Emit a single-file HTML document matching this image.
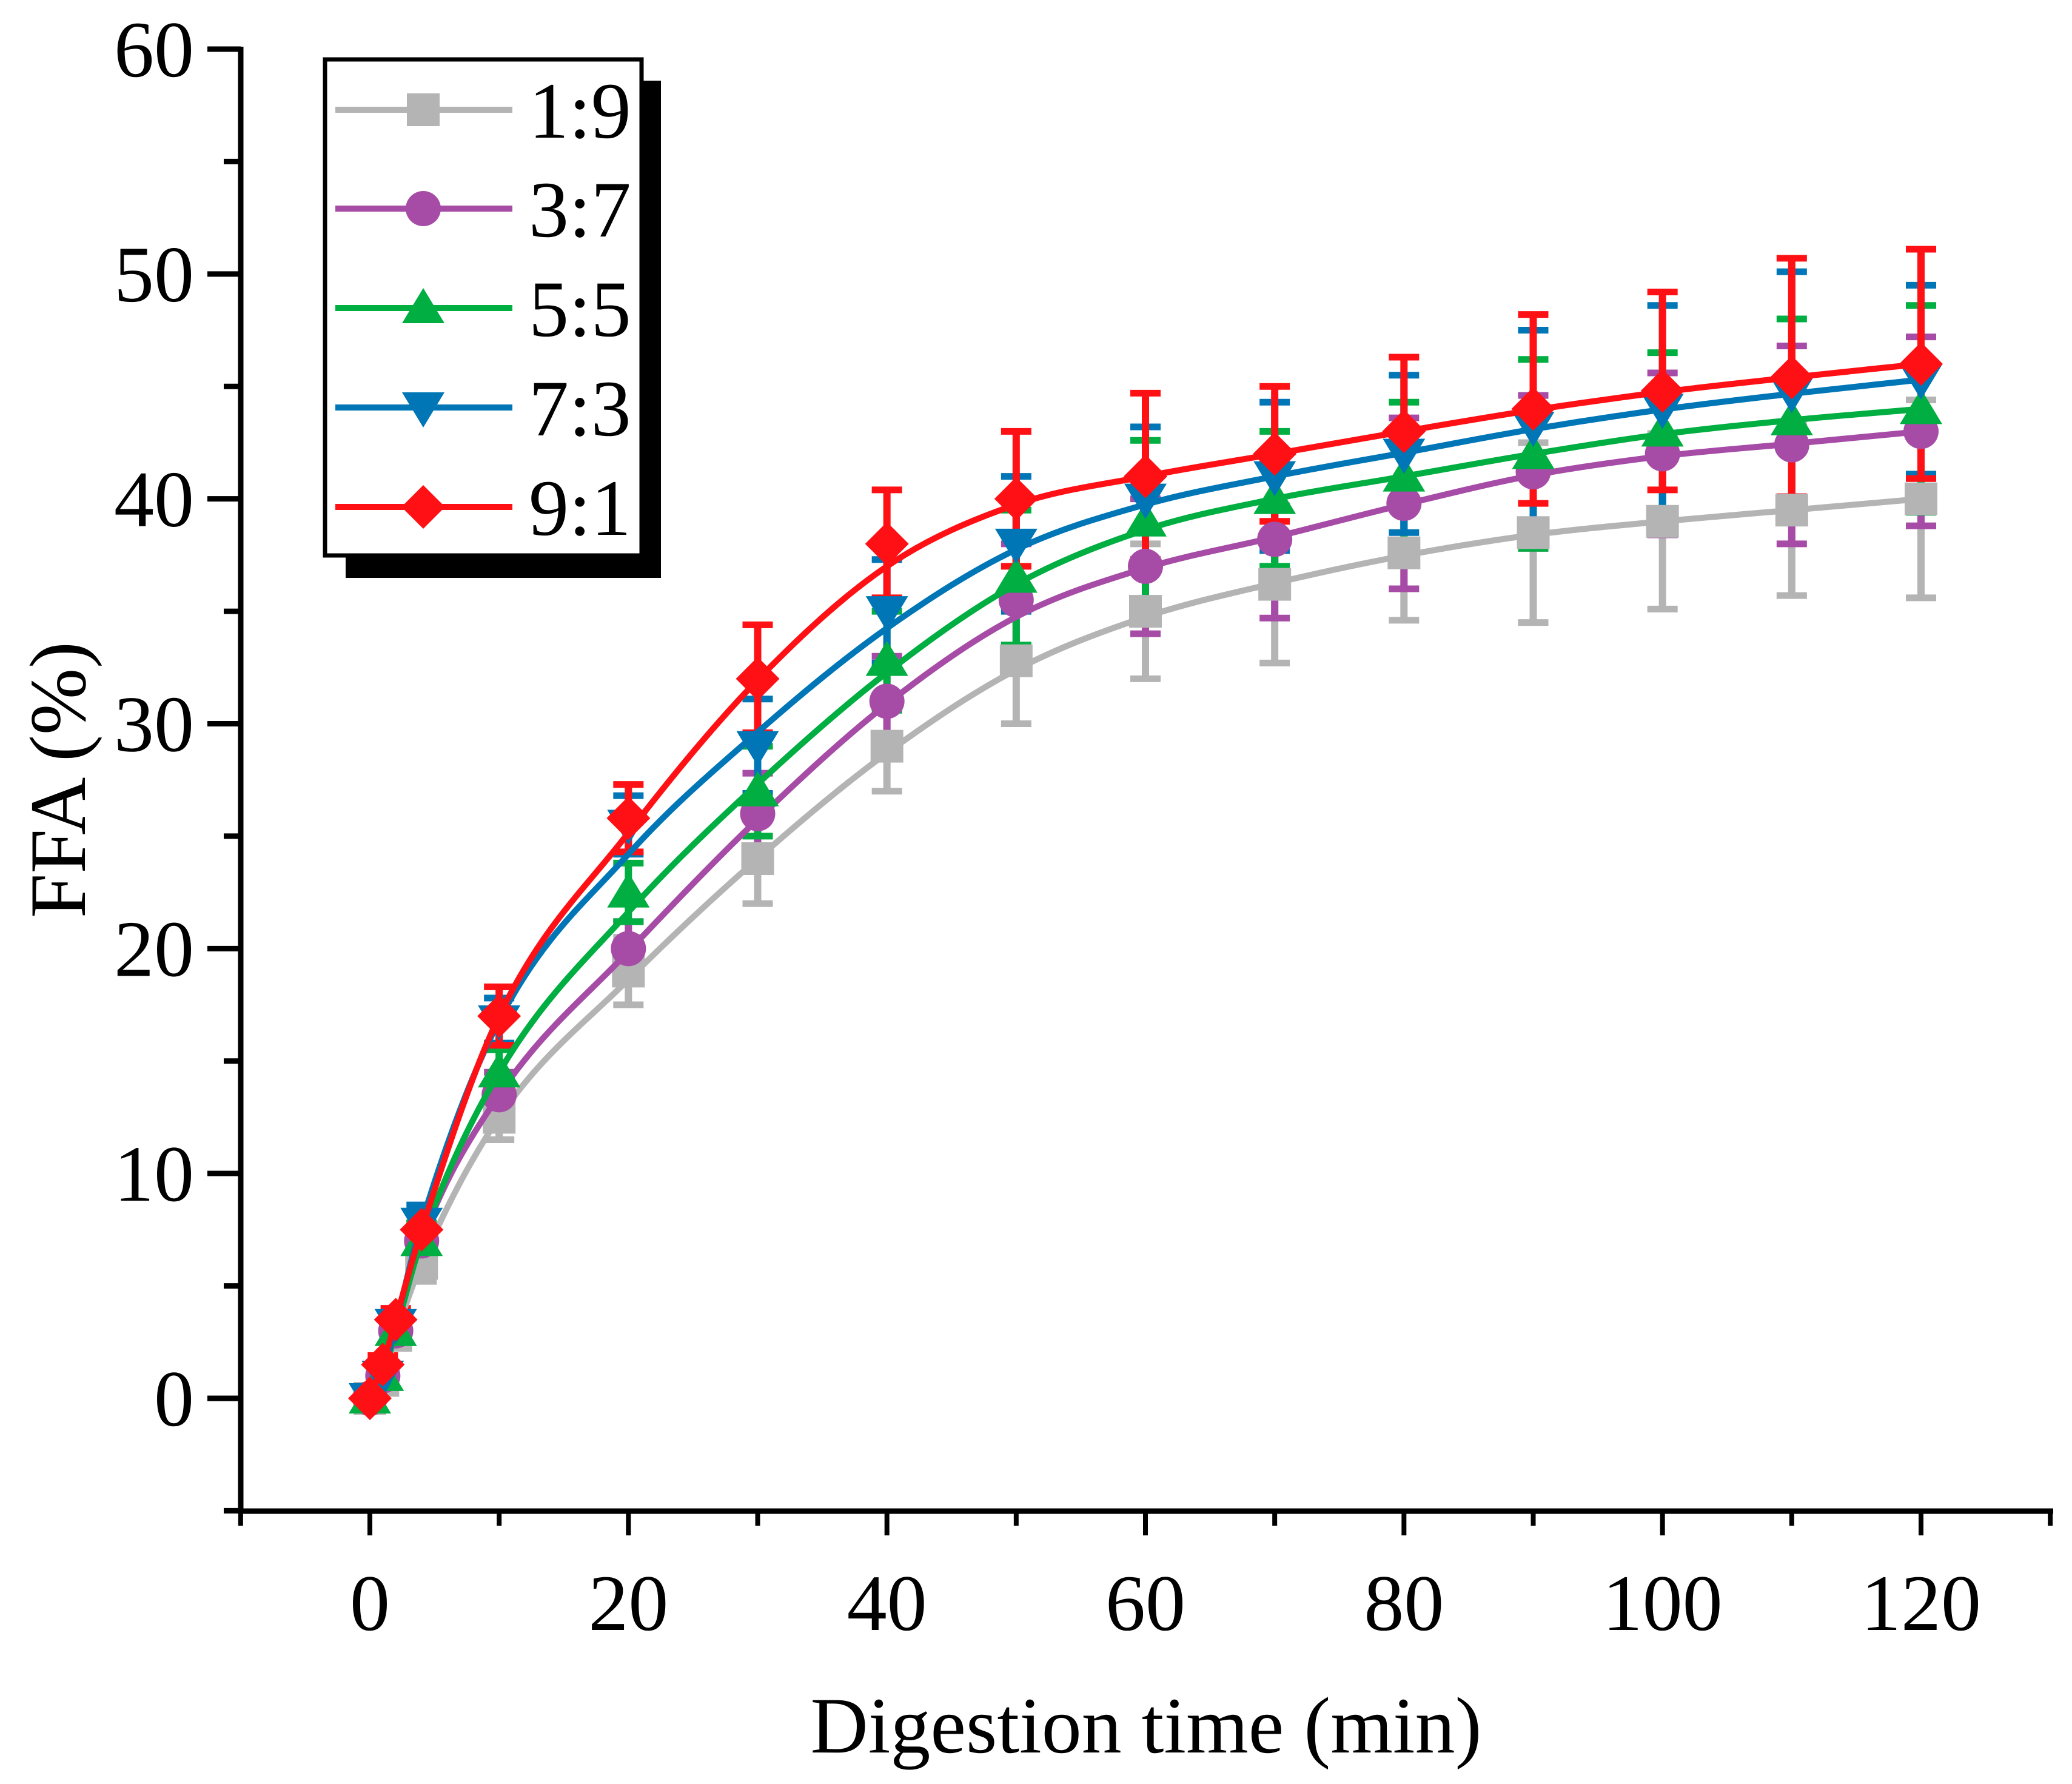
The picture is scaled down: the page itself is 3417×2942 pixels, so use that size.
<!DOCTYPE html>
<html><head><meta charset="utf-8"><style>
html,body{margin:0;padding:0;background:#fff;}
svg{display:block;font-family:"Liberation Serif",serif;}
</style></head><body>
<svg id="chart" width="3417" height="2942" viewBox="0 0 3417 2942" xmlns="http://www.w3.org/2000/svg">
<g id="plot"></g>
<g id="axes"></g>
<g id="legend"></g>
</svg>
<script>
const times = [0,1,2,4,10,20,30,40,50,60,70,80,90,100,110,120];
const seriesNames = ["1:9","3:7","5:5","7:3","9:1"];
const s19 = [0,0.8,2.8,6,12.5,19,24,29,32.8,35,36.2,37.6,38.5,39,39.5,40];
const s37 = [0,1,3,7,13.5,20,26,31,35.5,37,38.2,39.8,41.2,42,42.4,43];
const s55 = [0,1,3,7,14.5,22.5,27,32.8,36.5,39,40,41,42,43,43.5,44];
const s73 = [0,1,3.3,7.8,16.8,25.5,29,35,38,40,41,42,43.2,44,44.7,45.3];
const s91 = [0,1.5,3.5,7.5,17,25.8,32,38,40,41,42,43,44,44.8,45.4,46];
const e19 = [0.2,0.4,0.5,0.8,1,1.5,2,2,2.8,3,3.5,3,4,3.9,3.8,4.4];
const e37 = [0.2,0.4,0.5,0.8,1,1.2,1.8,2,2.5,3,3.5,3.8,3.4,3.6,4.4,4.2];
const e55 = [0.2,0.4,0.5,0.8,1,1.3,2,2.2,3,3.6,3,3.3,4.2,3.5,4.5,4.6];
const e73 = [0.2,0.4,0.5,0.8,1,1.3,2.1,2.3,3,3.2,3.3,3.5,4.3,4.6,5.4,4.2];
const e91 = [0.2,0.4,0.5,0.8,1.3,1.5,2.4,2.4,3,3.7,3,3.3,4.2,4.4,5.3,5.1];
const yTicks = [0,10,20,30,40,50,60];
const xTicks = [0,20,40,60,80,100,120];

const NS="http://www.w3.org/2000/svg";
const X0=397, XR=3386, YB=2492, YT=81;
function xs(t){return 610+(t-0)*(3168-610)/120;}
function ys(v){return 2306-v*(2306-81)/60;}
function mk(tag,attrs,parent){const e=document.createElementNS(NS,tag);for(const k in attrs)e.setAttribute(k,attrs[k]);parent.appendChild(e);return e;}

const plot=document.getElementById('plot'), axes=document.getElementById('axes'), legend=document.getElementById('legend');
const colors=["#b4b4b4","#a64ca6","#00ae41","#0076b7","#ff1015"];
const data=[s19,s37,s55,s73,s91];
const errs=[e19,e37,e55,e73,e91];
const shapes=["square","circle","up","down","diamond"];

function marker(shape,cx,cy,color,parent){
  let e;
  const r=29;
  if(shape==="square") e=mk('rect',{x:cx-r+2,y:cy-r+2,width:2*r-4,height:2*r-4,fill:color},parent);
  else if(shape==="circle") e=mk('circle',{cx:cx,cy:cy,r:r,fill:color},parent);
  else if(shape==="up") e=mk('polygon',{points:`${cx},${cy-r-4} ${cx+r+6},${cy+r-4} ${cx-r-6},${cy+r-4}`,fill:color},parent);
  else if(shape==="down") e=mk('polygon',{points:`${cx},${cy+r+4} ${cx+r+6},${cy-r+4} ${cx-r-6},${cy-r+4}`,fill:color},parent);
  else e=mk('polygon',{points:`${cx},${cy-r-7} ${cx+r+7},${cy} ${cx},${cy+r+7} ${cx-r-7},${cy}`,fill:color},parent);
  return e;
}
// smooth curve: moving average of values in data space, then monotone cubic
function smoothed(s){
  return s.map((v,i)=>{
    if(i<5||i===s.length-1) return v;
    return 0.25*s[i-1]+0.5*v+0.25*s[i+1];
  });
}
function monoPath(pts){
  const n=pts.length, d=[], m=[];
  for(let i=0;i<n-1;i++) d.push((pts[i+1][1]-pts[i][1])/(pts[i+1][0]-pts[i][0]));
  m[0]=d[0]; m[n-1]=d[n-2];
  for(let i=1;i<n-1;i++) m[i]=(d[i-1]*d[i]<=0)?0:(d[i-1]+d[i])/2;
  for(let i=0;i<n-1;i++){
    if(d[i]===0){m[i]=0;m[i+1]=0;continue;}
    const a=m[i]/d[i],b=m[i+1]/d[i],h=a*a+b*b;
    if(h>9){const t=3/Math.sqrt(h);m[i]=t*a*d[i];m[i+1]=t*b*d[i];}
  }
  let p=`M${pts[0][0]},${pts[0][1]}`;
  for(let i=0;i<n-1;i++){
    const dx=(pts[i+1][0]-pts[i][0])/3;
    p+=` C${pts[i][0]+dx},${pts[i][1]+m[i]*dx} ${pts[i+1][0]-dx},${pts[i+1][1]-m[i+1]*dx} ${pts[i+1][0]},${pts[i+1][1]}`;
  }
  return p;
}
// error bars
data.forEach((s,si)=>{
  const g=mk('g',{},plot);
  
  
  s.forEach((v,i)=>{
    const x=xs(times[i]),y1=ys(v+errs[si][i]),y2=ys(v-errs[si][i]);
    mk('line',{x1:x,y1:y1,x2:x,y2:y2,stroke:colors[si],'stroke-width':12},g);
    mk('line',{x1:x-25,y1:y1,x2:x+25,y2:y1,stroke:colors[si],'stroke-width':11},g);
    mk('line',{x1:x-25,y1:y2,x2:x+25,y2:y2,stroke:colors[si],'stroke-width':11},g);
  });
});
// lines and markers
data.forEach((s,si)=>{
  const g=mk('g',{},plot);
  
  
  const sm=smoothed(s);
  const pts=sm.map((v,i)=>[xs(times[i]),ys(v)]);
  const p=mk('path',{d:monoPath(pts),fill:'none',stroke:colors[si],'stroke-width':10},g);
  
  
  s.forEach((v,i)=>{
    const m=marker(shapes[si],xs(times[i]),ys(v),colors[si],g);
    
    
  });
});
// axes
mk('line',{x1:X0,y1:YT-4,x2:X0,y2:YB+4,stroke:'#000','stroke-width':9},axes);
mk('line',{x1:X0-4,y1:YB,x2:XR,y2:YB,stroke:'#000','stroke-width':9},axes);
for(let v=-5;v<=60;v+=5){
  const major=(v%10===0);
  mk('line',{x1:X0-(major?55:28),y1:ys(v),x2:X0,y2:ys(v),stroke:'#000','stroke-width':9},axes);
}
yTicks.forEach(v=>{
  const t=mk('text',{x:320,y:ys(v)+45,'font-size':132,'text-anchor':'end',fill:'#000'},axes);
  t.textContent=v;
  
  
});
for(let tv=-10;tv<=130;tv+=10){
  const major=(tv%20===0)&&tv>=0&&tv<=120;
  mk('line',{x1:xs(tv),y1:YB,x2:xs(tv),y2:YB+(major?40:24),stroke:'#000','stroke-width':8},axes);
}
xTicks.forEach(v=>{
  const t=mk('text',{x:xs(v),y:2688,'font-size':132,'text-anchor':'middle',fill:'#000'},axes);
  t.textContent=v;
  
  
});
const xt=mk('text',{x:1890,y:2890,'font-size':132,'text-anchor':'middle',fill:'#000'},axes);
xt.textContent='Digestion time (min)';


const yt=mk('text',{x:0,y:0,'font-size':132,'text-anchor':'middle',fill:'#000',transform:'translate(140,1286) rotate(-90)'},axes);
yt.textContent='FFA (%)';


// legend
mk('rect',{x:570,y:133,width:520,height:820,fill:'#000'},legend);
mk('rect',{x:536,y:98,width:522,height:818,fill:'#fff',stroke:'#000','stroke-width':7},legend);
const legY=[181,344,508,672,836];
seriesNames.forEach((n,i)=>{
  const g=mk('g',{},legend);
  
  
  mk('line',{x1:553,y1:legY[i],x2:845,y2:legY[i],stroke:colors[i],'stroke-width':10},g);
  marker(shapes[i],698,legY[i],colors[i],g);
  const t=mk('text',{x:872,y:legY[i]+46,'font-size':132,fill:'#000'},g);
  t.textContent=n;
});
</script>
</body></html>
